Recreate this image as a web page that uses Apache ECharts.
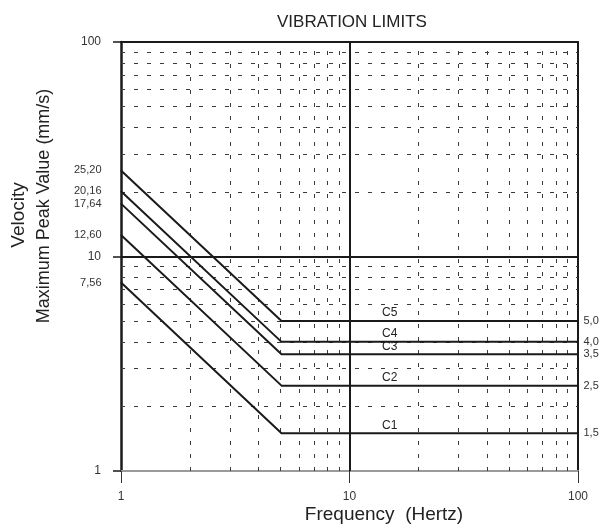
<!DOCTYPE html>
<html lang="en">
<head>
<meta charset="UTF-8">
<title>Vibration Limits</title>
<script src="https://cdn.jsdelivr.net/npm/echarts@6/dist/echarts.min.js"></script>
<style>
  html, body { margin: 0; padding: 0; background: #fff; }
  #main { width: 600px; height: 524px; }
</style>
</head>
<body>
<div id="main"></div>
<script>
  // curve data
  var curveNames = ['C1', 'C2', 'C3', 'C4', 'C5'];
  var startValues = [7.56, 12.60, 17.64, 20.16, 25.20];   // at 1 Hz
  var plateauValues = [1.5, 2.5, 3.5, 4.0, 5.0];          // flat part
  var kneeFrequency = 5.04;
  var leftLabels = ['7,56', '12,60', '17,64', '20,16', '25,20'];
  var rightLabels = ['1,5', '2,5', '3,5', '4,0', '5,0'];
  var curveLabelFreq = 15;

  // grid lines
  var minorValues = [2, 3, 4, 5, 6, 7, 8, 9, 20, 30, 40, 50, 60, 70, 80, 90];
  var majorValues = [10];

  var font = 'Liberation Sans, Arial, sans-serif';
  var ink = '#1a1a1a';

  var myChart = echarts.init(document.getElementById('main'));

  var gridLines = [];
  minorValues.forEach(function (v) {
    gridLines.push({ xAxis: v });
    gridLines.push({ yAxis: v });
  });
  var majorLines = [];
  majorValues.forEach(function (v) {
    majorLines.push({ xAxis: v });
    majorLines.push({ yAxis: v });
  });

  var series = [
    {
      name: 'grid',
      type: 'line',
      data: [],
      silent: true,
      markLine: {
        silent: true,
        symbol: ['none', 'none'],
        label: { show: false },
        animation: false,
        lineStyle: { color: '#3a3a3a', width: 1, type: [4, 9] },
        emphasis: { disabled: true },
        data: gridLines
      }
    },
    {
      name: 'major',
      type: 'line',
      data: [],
      silent: true,
      markLine: {
        silent: true,
        symbol: ['none', 'none'],
        label: { show: false },
        animation: false,
        lineStyle: { color: ink, width: 2, type: 'solid' },
        emphasis: { disabled: true },
        data: majorLines
      }
    }
  ];

  curveNames.forEach(function (name, i) {
    series.push({
      name: name,
      type: 'line',
      symbol: 'circle',
      symbolSize: 1,
      showSymbol: true,
      itemStyle: { color: ink },
      lineStyle: { color: ink, width: 2 },
      data: [
        {
          value: [1, startValues[i]],
          label: {
            show: true, position: 'left', distance: 19,
            formatter: leftLabels[i], fontSize: 11, color: '#333', fontFamily: font
          }
        },
        [kneeFrequency, plateauValues[i]],
        {
          value: [100, plateauValues[i]],
          label: {
            show: true, position: 'right', distance: 5,
            formatter: rightLabels[i], fontSize: 11, color: '#333', fontFamily: font
          }
        }
      ],
      markPoint: {
        symbol: 'circle',
        symbolSize: 0,
        silent: true,
        animation: false,
        label: {
          show: true, position: 'top', distance: 2,
          formatter: name, fontSize: 12, color: '#222', fontFamily: font
        },
        data: [{ coord: [curveLabelFreq, plateauValues[i]] }]
      },
      z: 5
    });
  });

  var option = {
    animation: false,
    textStyle: { fontFamily: font },
    title: {
      text: 'VIBRATION LIMITS',
      left: 272,
      top: 9,
      textStyle: { fontSize: 17, fontWeight: 'normal', color: '#222', fontFamily: font }
    },
    grid: { left: 121, right: 22, top: 42, bottom: 53, containLabel: false },
    xAxis: [
      {
        type: 'log', logBase: 10, min: 1, max: 100,
        axisLine: { lineStyle: { color: '#9a9a9a', width: 2 } },
        axisTick: { show: true, length: 12, lineStyle: { color: '#333', width: 1 } },
        axisLabel: { margin: 20, fontSize: 12, color: '#333', fontFamily: font },
        splitLine: { show: false },
        minorTick: { show: false }
      },
      {
        type: 'log', logBase: 10, min: 1, max: 100, position: 'top',
        axisLine: { lineStyle: { color: ink, width: 2 } },
        axisTick: { show: false },
        axisLabel: { show: false },
        splitLine: { show: false }
      }
    ],
    yAxis: [
      {
        type: 'log', logBase: 10, min: 1, max: 100,
        axisLine: { lineStyle: { color: ink, width: 2.5 } },
        axisTick: { show: true, length: 8, lineStyle: { color: ink, width: 1.5 } },
        axisLabel: { margin: 20, fontSize: 12, color: '#333', fontFamily: font },
        splitLine: { show: false }
      },
      {
        type: 'log', logBase: 10, min: 1, max: 100, position: 'right',
        axisLine: { lineStyle: { color: ink, width: 2 } },
        axisTick: { show: false },
        axisLabel: { show: false },
        splitLine: { show: false }
      }
    ],
    graphic: [
      {
        type: 'text', x: 19, y: 215, rotation: Math.PI / 2,
        style: { text: 'Velocity', fontSize: 19, fill: '#222', fontFamily: font,
          textAlign: 'center', textVerticalAlign: 'middle' }
      },
      {
        type: 'text', x: 44, y: 206, rotation: Math.PI / 2,
        style: { text: 'Maximum Peak Value (mm/s)', fontSize: 18, fill: '#222', fontFamily: font,
          textAlign: 'center', textVerticalAlign: 'middle' }
      },
      {
        type: 'text', x: 384, y: 515,
        style: { text: 'Frequency  (Hertz)', fontSize: 19, fill: '#222', fontFamily: font,
          textAlign: 'center', textVerticalAlign: 'middle' }
      }
    ],
    series: series
  };

  option && myChart.setOption(option);
</script>
</body>
</html>
